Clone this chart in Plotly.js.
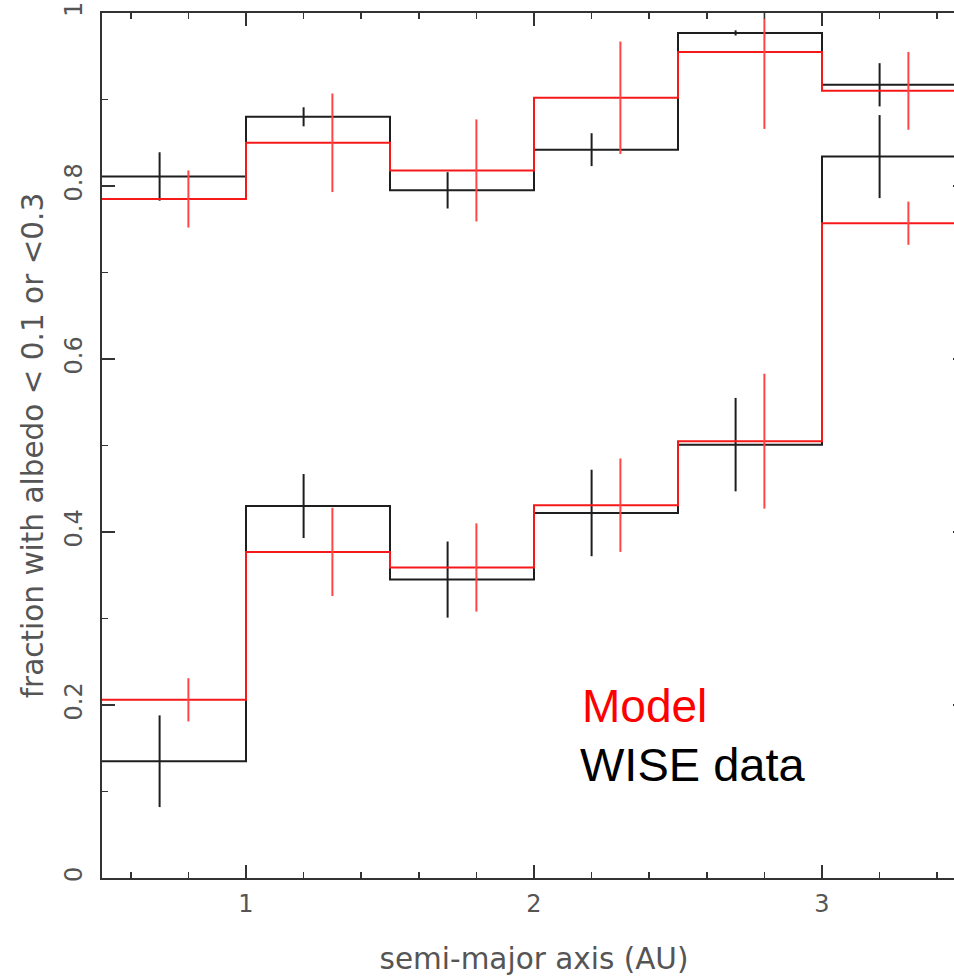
<!DOCTYPE html>
<html>
<head>
<meta charset="utf-8">
<script src="https://cdn.plot.ly/plotly-3.0.1.min.js"></script>
<style>
  html, body { margin: 0; padding: 0; overflow: hidden; background: #fff; }
  #chart { width: 970px; height: 979px; }
</style>
</head>
<body>
<div id="chart"></div>
<script>
// Semi-major axis bins (AU)
const binEdges = [0.5, 1.0, 1.5, 2.0, 2.5, 3.0, 3.5];
// Error-bar positions inside each bin
const wiseX  = [0.7, 1.2, 1.7, 2.2, 2.7, 3.2];
const modelX = [0.8, 1.3, 1.8, 2.3, 2.8, 3.3];

// Fraction with albedo < 0.1
const wiseLow     = [0.135, 0.430, 0.345, 0.422, 0.501, 0.834];
const wiseLowErr  = [0.053, 0.037, 0.044, 0.050, 0.054, 0.048];
const modelLow    = [0.206, 0.377, 0.359, 0.431, 0.505, 0.757];
const modelLowErr = [0.025, 0.051, 0.051, 0.054, 0.078, 0.025];

// Fraction with albedo < 0.3
const wiseHigh     = [0.811, 0.880, 0.795, 0.842, 0.977, 0.917];
const wiseHighErr  = [0.028, 0.011, 0.021, 0.019, 0.003, 0.025];
const modelHigh    = [0.785, 0.850, 0.818, 0.902, 0.955, 0.910];
const modelHighErr = [0.033, 0.057, 0.059, 0.065, 0.089, 0.045];

const xTickVals = [1, 2, 3];
const yTickVals = [0, 0.2, 0.4, 0.6, 0.8, 1];
const yTickText = ['0', '0.2', '0.4', '0.6', '0.8', '1'];

const BLACK = '#1e1e1e';
const RED = 'rgb(245,25,25)';
const RED_ERR = 'rgb(255,70,70)';

// histogram outline: one step per bin, last value repeated to close the final bin
function stepTrace(vals, color) {
  return {
    x: binEdges,
    y: vals.concat([vals[vals.length - 1]]),
    mode: 'lines',
    line: { shape: 'hv', color: color, width: 2 },
    hoverinfo: 'skip',
    showlegend: false
  };
}

function errTrace(xs, vals, errs, color) {
  return {
    x: xs,
    y: vals,
    mode: 'markers',
    marker: { size: 1, color: 'rgba(0,0,0,0)' },
    error_y: { type: 'data', array: errs, visible: true, color: color, thickness: 2, width: 0 },
    hoverinfo: 'skip',
    showlegend: false
  };
}

const traces = [
  stepTrace(wiseLow, BLACK),
  stepTrace(wiseHigh, BLACK),
  errTrace(wiseX, wiseLow, wiseLowErr, BLACK),
  errTrace(wiseX, wiseHigh, wiseHighErr, BLACK),
  stepTrace(modelLow, RED),
  stepTrace(modelHigh, RED),
  errTrace(modelX, modelLow, modelLowErr, RED_ERR),
  errTrace(modelX, modelHigh, modelHighErr, RED_ERR)
];

const axisFont = { family: 'DejaVu Sans, sans-serif', size: 24, color: '#555' };
const titleFont = { family: 'DejaVu Sans, sans-serif', size: 29.5, color: '#555' };

const layout = {
  width: 970,
  height: 979,
  margin: { l: 102, r: 4, t: 13, b: 101 },
  paper_bgcolor: '#fff',
  plot_bgcolor: '#fff',
  showlegend: false,
  xaxis: {
    range: [0.5, 3.5],
    tickmode: 'array',
    tickvals: xTickVals,
    ticktext: xTickVals.map(String),
    ticks: 'inside',
    ticklen: 13,
    tickwidth: 1.5,
    tickcolor: '#333',
    minor: { dtick: 0.2, tick0: 0, ticks: 'inside', ticklen: 6, tickwidth: 1.5, tickcolor: '#333' },
    showline: true,
    linecolor: '#333',
    linewidth: 2,
    mirror: 'ticks',
    showgrid: false,
    zeroline: false,
    tickfont: axisFont,
    ticklabelstandoff: 3,
    title: { text: 'semi-major axis (AU)', font: titleFont, standoff: 32 }
  },
  yaxis: {
    range: [0, 1],
    tickmode: 'array',
    tickvals: yTickVals,
    ticktext: yTickText,
    tickangle: -90,
    ticks: 'inside',
    ticklen: 13,
    tickwidth: 1.5,
    tickcolor: '#333',
    minor: { dtick: 0.1, tick0: 0, ticks: 'inside', ticklen: 6, tickwidth: 1.5, tickcolor: '#333' },
    showline: true,
    linecolor: '#333',
    linewidth: 2,
    mirror: 'ticks',
    showgrid: false,
    zeroline: false,
    tickfont: axisFont,
    ticklabelstandoff: 8,
    title: { text: 'fraction with albedo < 0.1 or <0.3', font: titleFont, standoff: 8 }
  },
  annotations: [
    { text: 'Model', x: 2.16, y: 0.1986, xref: 'x', yref: 'y', xanchor: 'left', yanchor: 'middle', showarrow: false,
      font: { family: 'Liberation Sans, Arial, sans-serif', size: 46, color: '#ff0000' } },
    { text: 'WISE data', x: 2.153, y: 0.1315, xref: 'x', yref: 'y', xanchor: 'left', yanchor: 'middle', showarrow: false,
      font: { family: 'Liberation Sans, Arial, sans-serif', size: 47, color: '#000000' } }
  ]
};

Plotly.newPlot('chart', traces, layout, { staticPlot: true, displayModeBar: false });
</script>
</body>
</html>
